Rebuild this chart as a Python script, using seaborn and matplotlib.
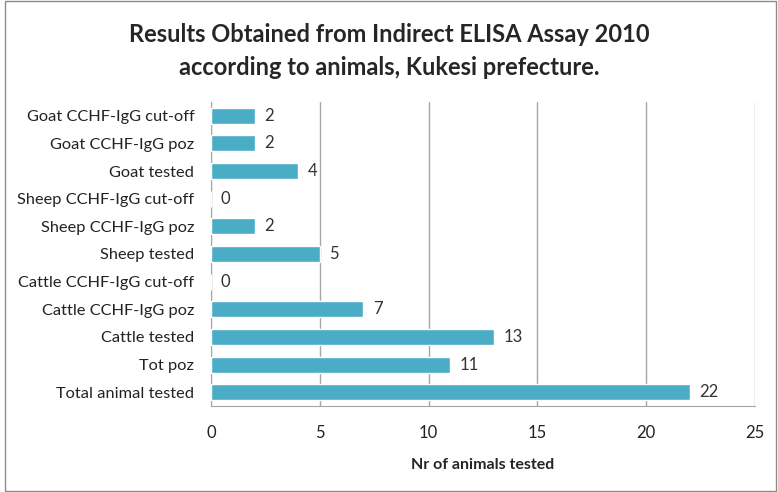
import matplotlib
matplotlib.use("Agg")
import matplotlib.pyplot as plt
import seaborn as sns
import pandas as pd
from matplotlib.patches import Rectangle

categories = ["Goat CCHF-IgG cut-off", "Goat CCHF-IgG poz", "Goat tested",
              "Sheep CCHF-IgG cut-off", "Sheep CCHF-IgG poz", "Sheep tested",
              "Cattle CCHF-IgG cut-off", "Cattle CCHF-IgG poz", "Cattle tested",
              "Tot poz", "Total animal tested"]
counts = [2, 2, 4, 0, 2, 5, 0, 7, 13, 11, 22]
x_ticks = [0, 5, 10, 15, 20, 25]

sns.set_style("white")
plt.rcParams['font.family'] = ['Lato', 'DejaVu Sans']

df = pd.DataFrame({"label": categories, "count": counts})

fig = plt.figure(figsize=(7.78, 4.92), dpi=100)
ax = fig.add_axes([211/778, 1 - 406/492, (755 - 211)/778, (406 - 102)/492])
sns.barplot(data=df, x="count", y="label", color="#4BACC6", saturation=1,
            width=0.58, ax=ax, zorder=3)

for p, v in zip(ax.patches, counts):
    ax.annotate(str(v), xy=(p.get_width(), p.get_y() + p.get_height()/2),
                xytext=(7, 0), textcoords="offset points",
                ha="left", va="center", fontsize=12, color="#333333")

ax.set_xlim(0, 25)
ax.set_xticks(x_ticks)
ax.grid(axis="x", color="#a6a6a6", linewidth=1, zorder=0)
for s in ["top", "right"]:
    ax.spines[s].set_visible(False)
for s in ["left", "bottom"]:
    ax.spines[s].set_color("#a6a6a6")
ax.tick_params(axis="x", length=0, pad=14, labelsize=12, labelcolor="#222222")
ax.tick_params(axis="y", length=0, pad=12, labelsize=11.8, labelcolor="#222222")
ax.set_ylabel("")
ax.set_xlabel("Nr of animals tested", fontsize=11.5, fontweight="bold", labelpad=12)

fig.text(0.5, 0.896, "Results Obtained from Indirect ELISA Assay 2010\naccording to animals, Kukesi prefecture.",
         ha="center", va="center", fontsize=17, fontweight="bold", linespacing=1.55)

fig.patches.append(Rectangle((5/778, 0.002), 771/778, 0.995, transform=fig.transFigure,
                             fill=False, edgecolor="#8c8c8c", linewidth=1))

fig.savefig("out.png", dpi=100)
